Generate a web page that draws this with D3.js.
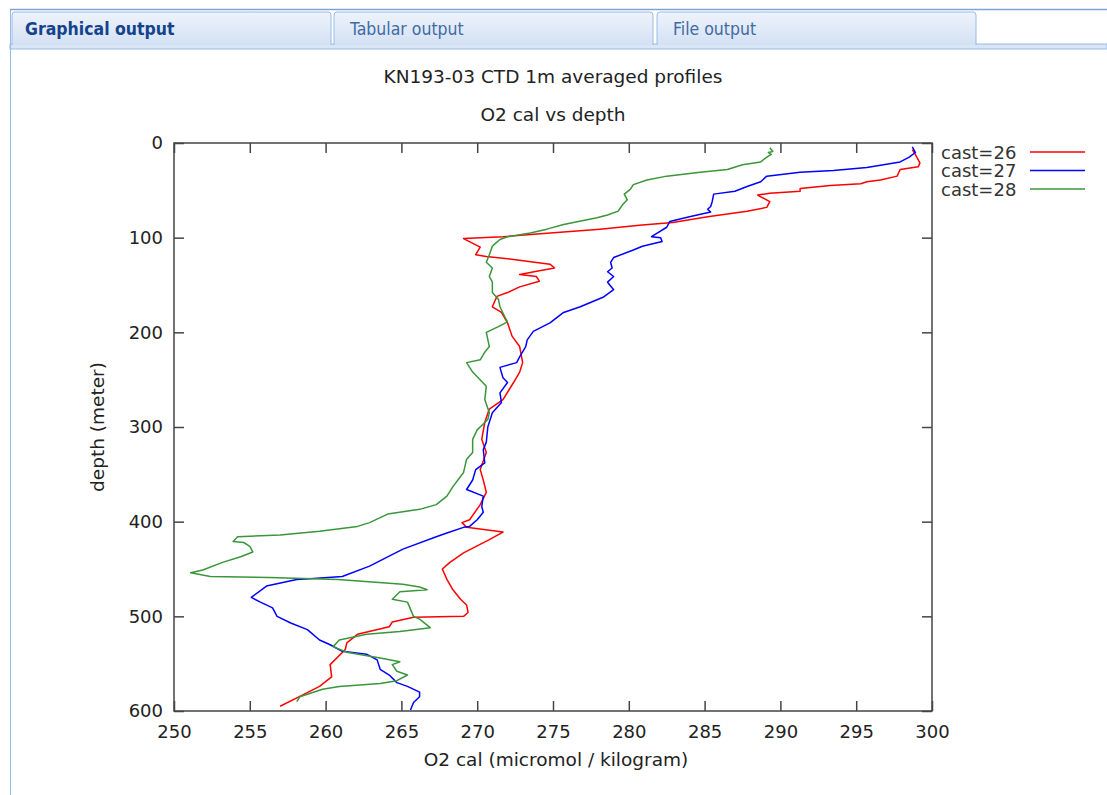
<!DOCTYPE html>
<html>
    <head>
        <title>KN193-03 CTD profiles</title>
        <script src="https://d3js.org/d3.v7.min.js"></script>
        <style>
            body { margin: 0; background: #fff; }
            svg { display: block; font-family: "DejaVu Sans", sans-serif; }
            .tab text { font-family: "DejaVu Sans Condensed", "DejaVu Sans", sans-serif; font-size: 17.5px; }
            .axis text { font-size: 18px; fill: #222; }
        </style>
    </head>
    <body>

        <svg id="page" width="1107" height="795"></svg>

        <script type="text/javascript">

            // values
            var tabNames = ["Graphical output", "Tabular output", "File output"];
            var casts = ["cast=26", "cast=27", "cast=28"];
            var castColors = ["#ff0000", "#0000ff", "#3a963a"];
            var xTicks = [250, 255, 260, 265, 270, 275, 280, 285, 290, 295, 300];
            var yTicks = [0, 100, 200, 300, 400, 500, 600];

            var depth26 = [7, 12, 21, 25, 28, 35, 39, 41, 43, 45, 48, 51, 53, 55, 62, 68, 72, 78, 84, 87, 91, 97, 99, 101,
                110, 118, 120, 123, 128, 132, 135, 139, 141, 146, 152, 158, 162, 173, 179, 190, 204, 215, 232, 242, 253,
                271, 281, 295, 313, 327, 345, 356, 369, 382, 398, 401, 406, 411, 419, 433, 443, 450, 461, 472, 482, 488,
                496, 500, 501, 506, 511, 519, 528, 535, 551, 564, 574, 583, 595];
            var o2_26 = [298.7, 298.9, 299.2, 299.1, 297.9, 297.7, 296.6, 295.7, 295.3, 293.3, 291.3, 291.3, 289.3, 288.5,
                289.3, 289.1, 287.8, 285.2, 282.9, 280.7, 278.1, 273.3, 271.7, 269.1,
                270.2, 269.9, 270.6, 272.4, 274.8, 275.1, 274.1, 272.8, 273.9, 274.1, 272.8, 272.0, 271.3, 271.0, 271.6,
                272.0, 272.3, 272.8, 273.0, 272.8, 272.4, 271.7, 270.8, 270.5, 270.3, 270.6, 270.2, 270.4, 270.6, 270.2,
                269.5, 269.0, 269.3, 271.7, 270.8, 269.1, 268.2, 267.7, 268.0, 268.4, 268.9, 269.3, 269.4, 269.1, 265.8,
                264.4, 264.2, 262.1, 261.4, 261.3, 260.3, 260.4, 259.6, 258.5, 257.0];

            var depth27 = [4, 10, 15, 20, 23, 26, 29, 31, 35, 41, 46, 51, 54, 62, 67, 70, 73, 78, 83, 89, 95, 99, 100, 104,
                109, 113, 121, 126, 132, 136, 141, 147, 155, 163, 173, 179, 190, 199, 208, 215, 226, 232, 237, 248, 253,
                264, 274, 285, 300, 316, 324, 338, 345, 356, 366, 373, 384, 390, 398, 405, 406, 412, 416, 429, 447, 458,
                460, 461, 468, 480, 485, 491, 500, 507, 514, 525, 530, 537, 540, 546, 556, 562, 570, 574, 580, 585, 591, 599];
            var o2_27 = [298.7, 298.9, 298.5, 297.9, 296.8, 295.7, 293.5, 291.3, 289.1, 288.7, 287.8, 287.0, 285.6, 285.5,
                285.4, 285.2, 285.4, 284.0, 282.7, 282.5, 281.9, 281.5, 282.1, 282.2, 280.9, 280.3, 279.0, 278.8, 278.9,
                278.6, 279.0, 278.6, 279.0, 278.3, 276.8, 275.7, 274.8, 273.7, 273.3, 273.2, 272.8, 272.6, 271.5, 271.7,
                272.0, 271.5, 271.6, 271.0, 270.7, 270.6, 270.4, 270.5, 269.9, 269.7, 269.3, 270.4, 270.3, 270.4, 270.0,
                269.5, 269.1, 268.0, 267.3, 265.1, 262.9, 261.1, 259.2, 258.1, 256.1, 255.1, 255.7, 256.5, 256.8, 257.7,
                258.8, 259.6, 260.3, 261.1, 262.7, 263.4, 263.6, 264.2, 264.7, 265.4, 266.2, 266.2, 265.8, 265.6];

            var depth28 = [5, 9, 10, 12, 15, 20, 23, 28, 31, 35, 39, 44, 49, 54, 60, 65, 72, 76, 79, 86, 91, 95, 99, 102,
                109, 118, 126, 132, 141, 147, 158, 165, 173, 183, 189, 194, 200, 215, 221, 229, 232, 242, 257, 271, 285,
                292, 303, 313, 327, 334, 348, 363, 373, 382, 387, 392, 401, 405, 410, 414, 416, 421, 422, 426, 432, 437,
                443, 451, 454, 458, 459, 461, 466, 469, 472, 474, 482, 485, 500, 503, 512, 516, 519, 525, 532, 538, 544,
                548, 551, 558, 562, 568, 571, 574, 577, 585, 590];
            var o2_28 = [289.3, 289.5, 289.2, 289.4, 289.1, 288.7, 287.5, 286.5, 284.7, 282.5, 281.2, 280.3, 280.1, 279.7,
                279.9, 279.6, 279.3, 278.6, 277.9, 275.7, 274.6, 273.5, 272.0, 271.5, 271.0, 270.8, 270.6, 271.0, 270.8,
                271.0, 271.0, 271.4, 271.5, 271.8, 272.0, 271.4, 270.6, 270.8, 270.5, 270.2, 269.3, 269.7, 270.6, 270.5,
                270.8, 270.7, 270.0, 269.7, 269.7, 269.3, 269.1, 268.4, 268.0, 267.3, 266.2, 264.1, 262.9, 262.1, 259.6,
                257.0, 254.2, 253.9, 254.6, 255.0, 255.2, 254.4, 253.2, 251.9, 251.1, 252.4, 256.3, 260.8, 265.1, 266.2,
                266.7, 264.9, 264.4, 265.4, 265.8, 266.2, 266.9, 264.9, 262.7, 260.9, 260.5, 261.4, 263.6, 264.9, 264.4,
                264.7, 265.4, 264.7, 263.6, 260.9, 259.8, 258.3, 258.1];

            var svg = d3.select("#page");

            // ---- tab strip ----
            var grad = svg.append("defs").append("linearGradient")
                .attr("id", "tabGrad").attr("x1", 0).attr("y1", 0).attr("x2", 0).attr("y2", 1);
            grad.append("stop").attr("offset", "0%").attr("stop-color", "#eef3fb");
            grad.append("stop").attr("offset", "100%").attr("stop-color", "#d3e1f4");

            svg.append("line").attr("x1", 10).attr("x2", 1107).attr("y1", 9.5).attr("y2", 9.5)
                .attr("stroke", "#7fa3d3").attr("stroke-width", 1.5);
            svg.append("rect").attr("x", 10).attr("y", 44).attr("width", 1097).attr("height", 5)
                .attr("fill", "#d9e6f6").attr("stroke", "#99bbe8");
            svg.append("line").attr("x1", 10.5).attr("x2", 10.5).attr("y1", 10).attr("y2", 795)
                .attr("stroke", "#99bbe8");

            var tabX = [12, 334, 657];
            var tabs = svg.selectAll("g.tab").data(tabNames).enter().append("g")
                .attr("class", "tab")
                .attr("transform", function(d, i) { return "translate(" + tabX[i] + ",12)"; });
            tabs.append("path")
                .attr("d", "M0,33 V3 Q0,0 3,0 H316 Q319,0 319,3 V33")
                .attr("fill", "url(#tabGrad)")
                .attr("stroke", "#99bbe8");
            tabs.append("text")
                .attr("x", function(d, i) { return i == 0 ? 13 : 16; })
                .attr("y", 23)
                .attr("fill", function(d, i) { return i == 0 ? "#15428b" : "#416aa3"; })
                .attr("font-weight", function(d, i) { return i == 0 ? "bold" : "normal"; })
                .text(function(d) { return d; });

            // ---- plot ----
            var pLeft = 174, pRight = 932, pTop = 143, pBottom = 711;

            var x = d3.scaleLinear().domain([250, 300]).range([pLeft, pRight]);
            var y = d3.scaleLinear().domain([0, 600]).range([pTop, pBottom]);

            svg.append("text").attr("x", 553).attr("y", 83).attr("text-anchor", "middle")
                .attr("font-size", 18.5).attr("fill", "#222").text("KN193-03 CTD 1m averaged profiles");
            svg.append("text").attr("x", 553).attr("y", 121).attr("text-anchor", "middle")
                .attr("font-size", 18.5).attr("fill", "#222").text("O2 cal vs depth");

            var plot = svg.append("g");

            var series = [
                { depth: depth26, o2: o2_26 },
                { depth: depth27, o2: o2_27 },
                { depth: depth28, o2: o2_28 }
            ];

            var line = d3.line()
                .x(function(d) { return x(d[1]); })
                .y(function(d) { return y(d[0]); });

            plot.selectAll("path.cast")
                .data(series)
                .enter()
                .append("path")
                .attr("class", "cast")
                .attr("fill", "none")
                .attr("stroke", function(d, i) { return castColors[i]; })
                .attr("stroke-width", 1.5)
                .attr("stroke-linejoin", "round")
                .attr("d", function(s) { return line(d3.zip(s.depth, s.o2)); });

            // axes, ticks pointing inward on all four sides
            var tickLen = 10;
            svg.append("g").attr("class", "axis")
                .attr("transform", "translate(0," + pBottom + ")")
                .call(d3.axisBottom(x).tickValues(xTicks).tickSizeInner(-tickLen).tickSizeOuter(0).tickPadding(14));
            svg.append("g").attr("class", "axis")
                .attr("transform", "translate(0," + pTop + ")")
                .call(d3.axisTop(x).tickValues(xTicks).tickSizeInner(-tickLen).tickSizeOuter(0).tickFormat(""));
            svg.append("g").attr("class", "axis")
                .attr("transform", "translate(" + pLeft + ",0)")
                .call(d3.axisLeft(y).tickValues(yTicks).tickSizeInner(-tickLen).tickSizeOuter(0).tickPadding(11));
            svg.append("g").attr("class", "axis")
                .attr("transform", "translate(" + pRight + ",0)")
                .call(d3.axisRight(y).tickValues(yTicks).tickSizeInner(-tickLen).tickSizeOuter(0).tickFormat(""));

            svg.selectAll(".axis .domain").remove();
            svg.selectAll(".axis line").attr("stroke", "#444").attr("stroke-width", 1.5);
            svg.selectAll(".axis text").attr("font-family", "DejaVu Sans, sans-serif");

            svg.append("rect")
                .attr("x", pLeft).attr("y", pTop)
                .attr("width", pRight - pLeft).attr("height", pBottom - pTop)
                .attr("fill", "none").attr("stroke", "#444").attr("stroke-width", 1.5);

            svg.append("text").attr("x", 556).attr("y", 766).attr("text-anchor", "middle")
                .attr("font-size", 18.5).attr("fill", "#222").text("O2 cal (micromol / kilogram)");
            svg.append("text")
                .attr("transform", "translate(104," + ((pTop + pBottom) / 2) + ") rotate(-90)")
                .attr("text-anchor", "middle").attr("font-size", 18.5).attr("fill", "#222")
                .text("depth (meter)");

            // legend
            var legend = svg.selectAll("g.legend").data(casts).enter().append("g")
                .attr("class", "legend")
                .attr("transform", function(d, i) { return "translate(0," + (152 + i * 18.5) + ")"; });
            legend.append("text").attr("x", 941).attr("y", 6.5).attr("font-size", 18).attr("fill", "#333")
                .text(function(d) { return d; });
            legend.append("line").attr("x1", 1030).attr("x2", 1085).attr("y1", 0).attr("y2", 0)
                .attr("stroke", function(d, i) { return castColors[i]; }).attr("stroke-width", 1.5);

        </script>
    </body>
</html>
